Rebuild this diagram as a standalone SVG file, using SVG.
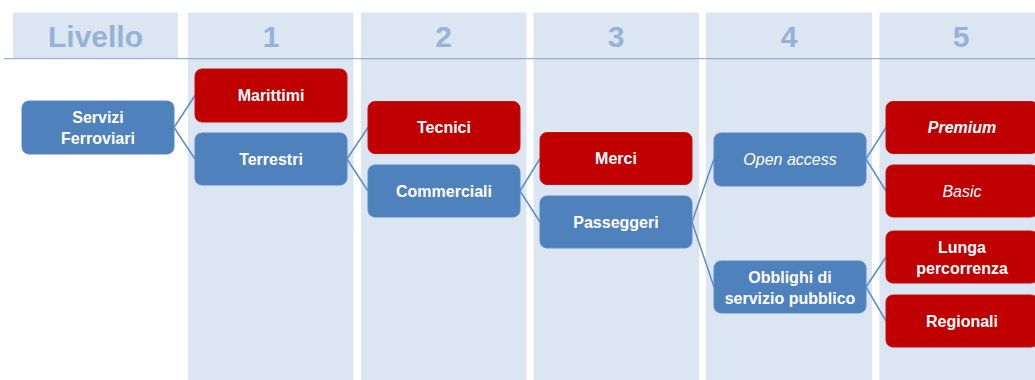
<svg xmlns="http://www.w3.org/2000/svg" width="1035" height="380" viewBox="0 0 1035 380">
<style>
.col{fill:#dce6f2}
.hdr{font-family:"Liberation Sans",Arial,sans-serif;font-weight:bold;font-size:30px;fill:#95b3d7;text-anchor:middle}
.blue{fill:#4f81bd;stroke:#5a8ac4;stroke-width:1}
.red{fill:#c00000;stroke:#c81010;stroke-width:1}
.t{font-family:"Liberation Sans",Arial,sans-serif;font-weight:bold;font-size:16px;fill:#ffffff;text-anchor:middle}
.it{font-style:italic}
.lt{font-weight:normal}
.conn line{stroke:#5f8dc6;stroke-width:1.5}
</style>
<rect width="1035" height="380" fill="#ffffff"/>
<g id="columns">
<rect class="col" x="13" y="12.5" width="165" height="45.5"/>
<rect class="col" x="188" y="12.5" width="165.5" height="367.5"/>
<rect class="col" x="361" y="12.5" width="165.5" height="367.5"/>
<rect class="col" x="533.5" y="12.5" width="165.5" height="367.5"/>
<rect class="col" x="706" y="12.5" width="166" height="367.5"/>
<rect class="col" x="879.5" y="12.5" width="160" height="367.5"/>
<line x1="4" y1="58.7" x2="1035" y2="58.7" stroke="#7fa0c9" stroke-width="1"/>
<text class="hdr" x="95.5" y="47">Livello</text>
<text class="hdr" x="271" y="47">1</text>
<text class="hdr" x="443.5" y="47">2</text>
<text class="hdr" x="616" y="47">3</text>
<text class="hdr" x="789" y="47">4</text>
<text class="hdr" x="961" y="47">5</text>
</g>
<g class="conn" id="connectors">
<line x1="174" y1="127.5" x2="195" y2="95.5"/>
<line x1="174" y1="127.5" x2="195" y2="159"/>
<line x1="347" y1="159" x2="368" y2="127.5"/>
<line x1="347" y1="159" x2="368" y2="191"/>
<line x1="520" y1="191" x2="540" y2="158.5"/>
<line x1="520" y1="191" x2="540" y2="222"/>
<line x1="692" y1="222" x2="714" y2="159"/>
<line x1="692" y1="222" x2="714" y2="287"/>
<line x1="866" y1="159" x2="886" y2="127.5"/>
<line x1="866" y1="159" x2="886" y2="191"/>
<line x1="866" y1="287" x2="886" y2="257"/>
<line x1="866" y1="287" x2="886" y2="321"/>
</g>
<g id="servizi"><rect class="blue" x="22" y="101" width="152" height="53" rx="7"/><text class="t" x="98" y="123">Servizi</text><text class="t" x="98" y="144">Ferroviari</text></g>
<g id="marittimi"><rect class="red" x="195" y="69" width="152" height="53" rx="7"/><text class="t" x="271" y="101">Marittimi</text></g>
<g id="terrestri"><rect class="blue" x="195" y="133" width="152" height="52" rx="7"/><text class="t" x="271" y="164.5">Terrestri</text></g>
<g id="tecnici"><rect class="red" x="368" y="101.5" width="152" height="52" rx="7"/><text class="t" x="444" y="133">Tecnici</text></g>
<g id="commerciali"><rect class="blue" x="368" y="165" width="152" height="52" rx="7"/><text class="t" x="444" y="196.5">Commerciali</text></g>
<g id="merci"><rect class="red" x="540" y="132.5" width="152" height="52" rx="7"/><text class="t" x="616" y="164">Merci</text></g>
<g id="passeggeri"><rect class="blue" x="540" y="196" width="152" height="52" rx="7"/><text class="t" x="616" y="227.5">Passeggeri</text></g>
<g id="open-access"><rect class="blue" x="714" y="133" width="152" height="53" rx="7"/><text class="t it lt" x="790" y="165">Open access</text></g>
<g id="obblighi"><rect class="blue" x="714" y="261" width="152" height="52" rx="7"/><text class="t" x="790" y="282.5">Obblighi di</text><text class="t" x="790" y="303.5">servizio pubblico</text></g>
<g id="premium"><rect class="red" x="886" y="101.5" width="152" height="52" rx="7"/><text class="t it" x="962" y="133">Premium</text></g>
<g id="basic"><rect class="red" x="886" y="165" width="152" height="52" rx="7"/><text class="t it lt" x="962" y="196.5">Basic</text></g>
<g id="lunga"><rect class="red" x="886" y="231" width="152" height="52" rx="7"/><text class="t" x="962" y="252.5">Lunga</text><text class="t" x="962" y="273.5">percorrenza</text></g>
<g id="regionali"><rect class="red" x="886" y="295" width="152" height="52" rx="7"/><text class="t" x="962" y="326.5">Regionali</text></g>
</svg>
